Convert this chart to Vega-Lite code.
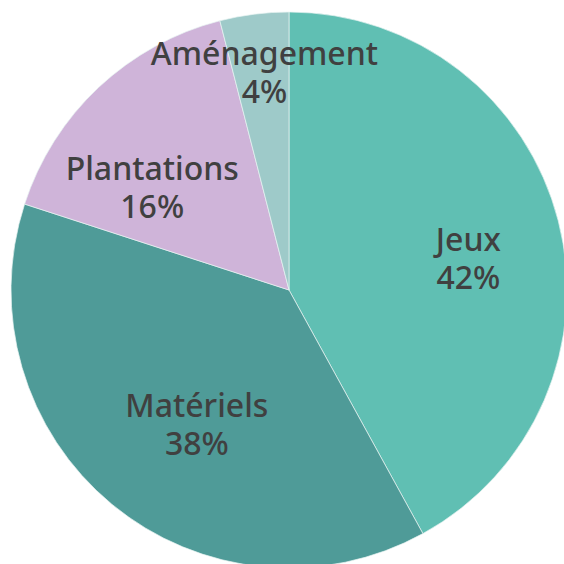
{
  "$schema": "https://vega.github.io/schema/vega-lite/v6.json",
  "width": 578,
  "height": 580,
  "padding": 0,
  "autosize": "none",
  "background": "white",
  "view": {"stroke": null},
  "data": {"values": [
    {"category": "Jeux", "value": 42, "seq": 1},
    {"category": "Matériels", "value": 38, "seq": 2},
    {"category": "Plantations", "value": 16, "seq": 3},
    {"category": "Aménagement", "value": 4, "seq": 4}
  ]},
  "transform": [
    {"stack": "value", "groupby": [], "sort": [{"field": "seq", "order": "ascending"}], "as": ["v0", "v1"]},
    {"calculate": "(datum.v0 + datum.v1) / 2", "as": "mid"},
    {"calculate": "[datum.category, datum.value + '%']", "as": "label"}
  ],
  "layer": [
    {
      "mark": {"type": "arc", "radius": 278, "stroke": "#e8f4f2", "strokeWidth": 0.7},
      "encoding": {
        "theta": {"field": "v0", "type": "quantitative", "scale": {"domain": [0, 100]}},
        "theta2": {"field": "v1"},
        "color": {"field": "category", "type": "nominal", "legend": null,
          "scale": {"domain": ["Jeux", "Matériels", "Plantations", "Aménagement"],
                    "range": ["#60bfb3", "#4f9b98", "#cfb4d9", "#9ecac9"]}}
      }
    },
    {
      "transform": [{"filter": "datum.category == 'Jeux'"}],
      "mark": {"type": "text", "radius": 180, "dx": 5, "dy": -4, "font": "Noto Sans", "fontSize": 32, "fontWeight": 500, "color": "#404040", "lineHeight": 38, "baseline": "middle", "align": "center"},
      "encoding": {"theta": {"field": "mid", "type": "quantitative", "scale": {"domain": [0, 100]}}, "text": {"field": "label"}}
    },
    {
      "transform": [{"filter": "datum.category == 'Matériels'"}],
      "mark": {"type": "text", "radius": 165, "dx": 13, "dy": -10, "font": "Noto Sans", "fontSize": 32, "fontWeight": 500, "color": "#404040", "lineHeight": 38, "baseline": "middle", "align": "center"},
      "encoding": {"theta": {"field": "mid", "type": "quantitative", "scale": {"domain": [0, 100]}}, "text": {"field": "label"}}
    },
    {
      "transform": [{"filter": "datum.category == 'Plantations'"}],
      "mark": {"type": "text", "radius": 172, "dx": -19, "dy": 5, "font": "Noto Sans", "fontSize": 32, "fontWeight": 500, "color": "#404040", "lineHeight": 38, "baseline": "middle", "align": "center"},
      "encoding": {"theta": {"field": "mid", "type": "quantitative", "scale": {"domain": [0, 100]}}, "text": {"field": "label"}}
    },
    {
      "transform": [{"filter": "datum.category == 'Aménagement'"}],
      "mark": {"type": "text", "radius": 220, "dx": 3, "dy": -17, "font": "Noto Sans", "fontSize": 32, "fontWeight": 500, "color": "#404040", "lineHeight": 38, "baseline": "middle", "align": "center"},
      "encoding": {"theta": {"field": "mid", "type": "quantitative", "scale": {"domain": [0, 100]}}, "text": {"field": "label"}}
    }
  ]
}
